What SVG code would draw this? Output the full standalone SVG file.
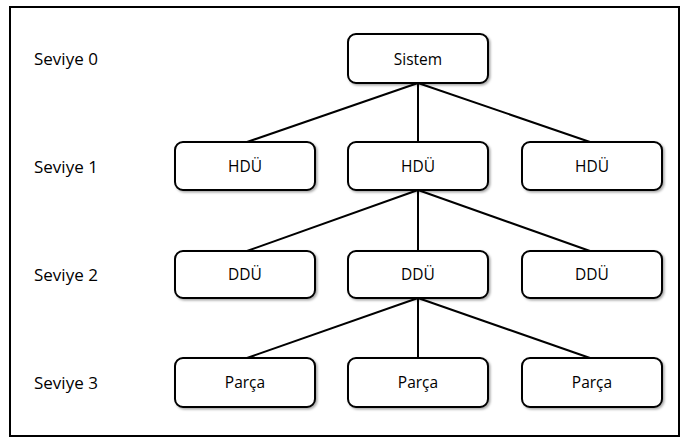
<svg xmlns="http://www.w3.org/2000/svg" width="688" height="438" viewBox="0 0 688 438">
  <style>
    .frame { fill: #ffffff; stroke: #000000; stroke-width: 2; }
    .box { fill: #ffffff; stroke: #000000; stroke-width: 2; filter: url(#shadow); }
    .edge { stroke: #000000; stroke-width: 2; fill: none; }
    .level { font-family: "Open Sans", "Liberation Sans", sans-serif; font-size: 17px; fill: #000000; }
    .label { font-family: "Open Sans", "Liberation Sans", sans-serif; font-size: 15.5px; fill: #000000; text-anchor: middle; }
  </style>
  <defs>
    <filter id="shadow" x="-10%" y="-20%" width="125%" height="150%">
      <feDropShadow dx="1.5" dy="1.5" stdDeviation="1.2" flood-color="#000000" flood-opacity="0.35"/>
    </filter>
  </defs>

  <rect class="frame" x="10" y="7" width="669" height="429"/>

  <!-- level captions -->
  <g id="levels">
    <text class="level" x="34" y="65">Seviye 0</text>
    <text class="level" x="34" y="173">Seviye 1</text>
    <text class="level" x="34" y="281">Seviye 2</text>
    <text class="level" x="34" y="389">Seviye 3</text>
  </g>

  <!-- tree connectors -->
  <g id="connectors">
    <line class="edge" x1="418" y1="83" x2="247" y2="142"/>
    <line class="edge" x1="418" y1="83" x2="418" y2="142"/>
    <line class="edge" x1="418" y1="83" x2="590" y2="142"/>
    <line class="edge" x1="418" y1="190" x2="247" y2="251"/>
    <line class="edge" x1="418" y1="190" x2="418" y2="251"/>
    <line class="edge" x1="418" y1="190" x2="590" y2="251"/>
    <line class="edge" x1="418" y1="298" x2="247" y2="358"/>
    <line class="edge" x1="418" y1="298" x2="418" y2="358"/>
    <line class="edge" x1="418" y1="298" x2="590" y2="358"/>
  </g>

  <g id="sistem">
    <rect class="box" x="348" y="34" width="140" height="49" rx="8"/>
    <text class="label" x="418" y="65">Sistem</text>
  </g>

  <g id="hdu-1">
    <rect class="box" x="175" y="142" width="140" height="48" rx="8"/>
    <text class="label" x="245" y="172">HDÜ</text>
  </g>
  <g id="hdu-2">
    <rect class="box" x="348" y="142" width="140" height="48" rx="8"/>
    <text class="label" x="418" y="172">HDÜ</text>
  </g>
  <g id="hdu-3">
    <rect class="box" x="522" y="142" width="140" height="48" rx="8"/>
    <text class="label" x="592" y="172">HDÜ</text>
  </g>

  <g id="ddu-1">
    <rect class="box" x="175" y="251" width="140" height="47" rx="8"/>
    <text class="label" x="245" y="280">DDÜ</text>
  </g>
  <g id="ddu-2">
    <rect class="box" x="348" y="251" width="140" height="47" rx="8"/>
    <text class="label" x="418" y="280">DDÜ</text>
  </g>
  <g id="ddu-3">
    <rect class="box" x="522" y="251" width="140" height="47" rx="8"/>
    <text class="label" x="592" y="280">DDÜ</text>
  </g>

  <g id="parca-1">
    <rect class="box" x="175" y="358" width="140" height="49" rx="8"/>
    <text class="label" x="245" y="388">Parça</text>
  </g>
  <g id="parca-2">
    <rect class="box" x="348" y="358" width="140" height="49" rx="8"/>
    <text class="label" x="418" y="388">Parça</text>
  </g>
  <g id="parca-3">
    <rect class="box" x="522" y="358" width="140" height="49" rx="8"/>
    <text class="label" x="592" y="388">Parça</text>
  </g>
</svg>
